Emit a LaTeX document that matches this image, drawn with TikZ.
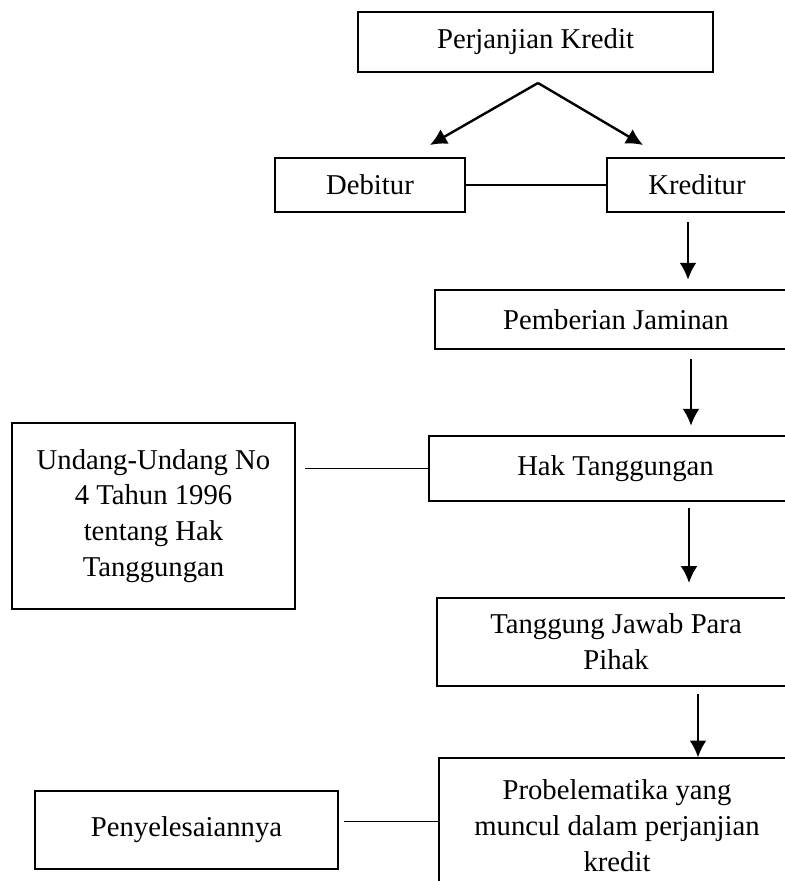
\documentclass[tikz,border=0pt]{standalone}
\usepackage{fontspec}
\setmainfont{Liberation Serif}
\usetikzlibrary{arrows.meta}
\tikzset{
  kotak/.style={draw,line width=0.6pt,align=center,inner sep=0pt,font=\fontsize{12}{15}\selectfont},
  panah/.style={->,line width=0.8pt,shorten <=4pt,shorten >=4pt},
  garis/.style={line width=0.45pt}
}
\begin{document}
\begin{tikzpicture}[x=0.418pt,y=-0.418pt,>={Latex[length=7pt,width=7pt]}]
\useasboundingbox (0,0) rectangle (784,881);
\node[kotak,minimum width=148.4pt,minimum height=25.1pt] (perj) at (535.5,42) {Perjanjian Kredit};
\node[kotak,minimum width=79.4pt,minimum height=22.6pt] (debt) at (370,185) {Debitur};
\node[kotak,minimum width=75.2pt,minimum height=22.6pt] (kred) at (697,185) {Kreditur};
\node[kotak,minimum width=151.3pt,minimum height=24.7pt] (pemb) at (616,319.5) {Pemberian Jaminan};
\node[kotak,minimum width=155.9pt,minimum height=27.2pt] (hak) at (615.5,468.5) {Hak Tanggungan};
\node[kotak,minimum width=118.3pt,minimum height=77.7pt] (uu) at (153.5,516) {Undang-Undang No\\4 Tahun 1996\\tentang Hak\\Tanggungan};
\node[kotak,minimum width=149.6pt,minimum height=36.8pt] (tj) at (616,642) {Tanggung Jawab Para\\Pihak};
\node[kotak,minimum width=148.8pt,minimum height=56.8pt] (prob) at (617,826) {Probelematika yang\\muncul dalam perjanjian\\kredit};
\node[kotak,minimum width=126.7pt,minimum height=32.6pt] (peny) at (186.5,830) {Penyelesaiannya};
% cabang dari perjanjian kredit
\coordinate (cabang) at (538,83);
\coordinate (kedebt) at (430,145);
\coordinate (kekred) at (643,145);
\draw[panah,line width=1pt,shorten <=0pt,shorten >=0pt] (cabang) -- (kedebt);
\draw[panah,line width=1pt,shorten <=0pt,shorten >=0pt] (cabang) -- (kekred);
\draw[garis] (debt.east) -- (kred.west);
% alur ke bawah
\draw[panah] (kred.south -| 688,0) -- (pemb.north -| 688,0);
\draw[panah] (pemb.south -| 691,0) -- (hak.north -| 691,0);
\draw[panah,shorten <=2.5pt,shorten >=6pt] (hak.south -| 689,0) -- (tj.north -| 689,0);
\draw[panah,shorten <=3pt,shorten >=0pt] (tj.south -| 698,0) -- (prob.north -| 698,0);
\draw[garis,shorten >=4pt] (hak.west) -- (hak.west -| uu.east);
\draw[garis,shorten >=2pt] ([yshift=2pt]prob.west) -- ([yshift=2pt]prob.west -| peny.east);
\end{tikzpicture}
\end{document}
